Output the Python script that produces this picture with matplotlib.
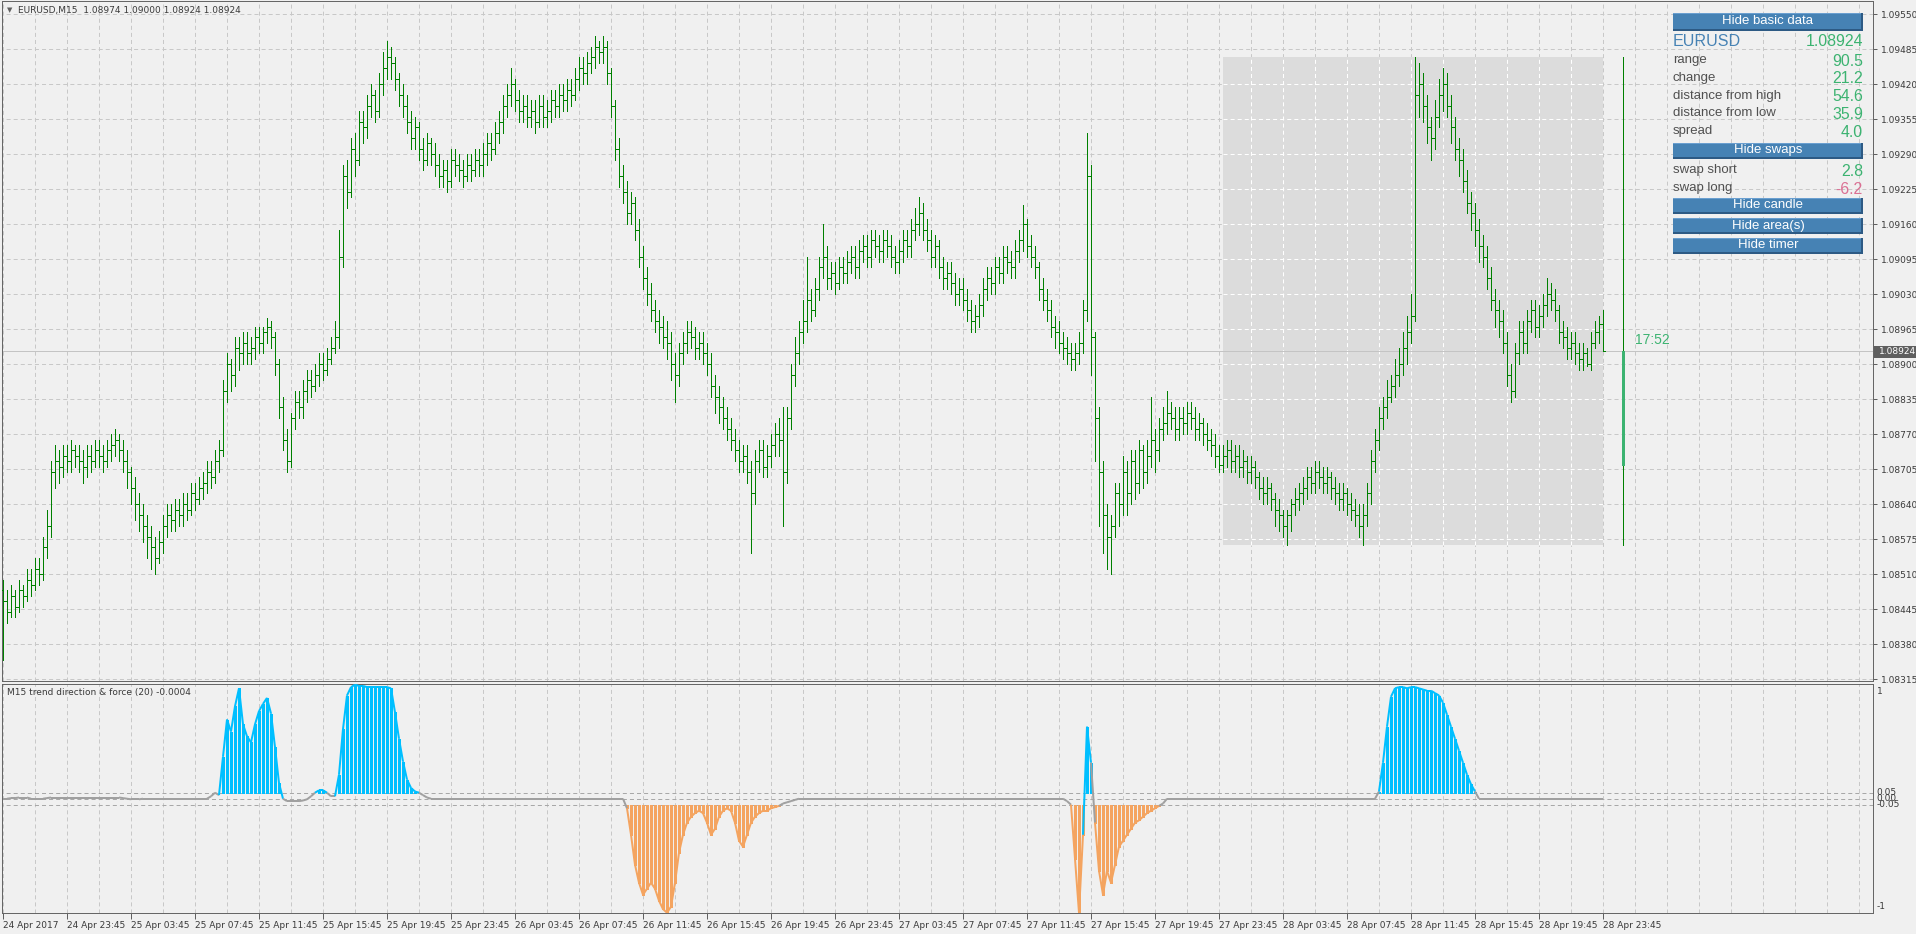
import numpy as np
import matplotlib
matplotlib.use("Agg")
import matplotlib.pyplot as plt
from matplotlib.patches import Rectangle
from matplotlib.collections import LineCollection

plt.rcParams.update({"font.family": "DejaVu Sans", "lines.scale_dashes": False})

BG = "#F0F0F0"
GRID = "#C8C8C8"
BAR_GREEN = "#008000"
SEA_GREEN = "#3CB371"
BLUE = "#00BFFF"
ORANGE = "#F4A460"
NEUTRAL = "#A0A0A0"
TXT = "#3A3A3A"
PX = 0.72  # one pixel in points at dpi 100

# EURUSD M15, prices in pips above 1.08000, bar 0 = 24 Apr 19:45
BASE = 1.08
open_pips = [
    48, 46, 44, 47, 45, 48, 47, 50, 49, 52,
    51, 56, 60, 70, 72, 71, 73, 72, 74, 73,
    72, 71, 73, 72, 74, 73, 72, 74, 75, 76,
    74, 72, 70, 67, 64, 62, 60, 58, 56, 54,
    57, 60, 62, 61, 63, 62, 64, 63, 66, 65,
    67, 68, 70, 69, 72, 74, 85, 90, 88, 93,
    92, 94, 92, 93, 95, 94, 96, 97, 95, 90,
    82, 76, 72, 80, 83, 82, 85, 87, 86, 88,
    90, 89, 91, 93, 95, 110, 125, 122, 130, 128,
    135, 134, 138, 140, 137, 142, 145, 147, 146, 143,
    140, 138, 135, 132, 134, 130, 128, 131, 129, 127,
    125, 126, 124, 128, 127, 126, 125, 127, 126, 128,
    127, 129, 131, 130, 133, 135, 138, 140, 142, 139,
    137, 138, 136, 137, 135, 138, 136, 137, 139, 138,
    140, 139, 141, 140, 143, 145, 144, 146, 147, 149,
    148, 149, 144, 138, 130, 125, 122, 118, 120, 115,
    110, 106, 103, 100, 98, 97, 95, 94, 90, 88,
    92, 94, 96, 95, 93, 94, 92, 90, 86, 84,
    82, 80, 78, 76, 74, 72, 73, 70, 66, 72,
    74, 71, 73, 75, 77, 76, 70, 80, 88, 92,
    96, 98, 102, 100, 104, 108, 110, 106, 107, 105,
    108, 107, 109, 110, 108, 111, 112, 110, 113, 112,
    111, 113, 112, 110, 109, 111, 113, 112, 115, 116,
    118, 115, 113, 110, 112, 108, 106, 107, 105, 103,
    104, 102, 100, 98, 99, 101, 104, 106, 105, 108,
    107, 110, 109, 108, 111, 113, 116, 112, 110, 108,
    104, 102, 100, 97, 96, 94, 93, 92, 91, 92,
    94, 100, 125, 95, 80, 70, 62, 58, 60, 66,
    64, 70, 66, 72, 68, 74, 70, 73, 76, 74,
    78, 79, 81, 80, 78, 80, 79, 81, 80, 78,
    79, 77, 76, 75, 73, 71.2, 73, 74, 72, 73,
    71, 72, 70, 71, 69, 67, 66, 67, 65, 63,
    62, 60, 62, 64, 65, 66, 67, 69, 68, 70,
    69, 68, 69, 67, 66, 65, 66, 64, 63, 62,
    60, 62, 66, 72, 76, 80, 82, 84, 86, 88,
    90, 93, 96, 99, 140, 142, 138, 134, 132, 136,
    140, 142, 138, 134, 130, 128, 124, 120, 118, 115,
    112, 110, 106, 102, 100, 98, 94, 88, 85, 92,
    96, 94, 98, 100, 97, 99, 101, 103, 102, 100,
    96, 95, 93, 94, 92, 91, 92, 90, 94, 96,
    97.4,
]
high_pips = [
    50, 48, 49, 48, 50, 49, 52, 52, 54, 54,
    58, 63, 72, 75, 74, 75, 75, 76, 75, 75,
    74, 75, 75, 76, 76, 75, 76, 77, 78, 77,
    76, 74, 71, 69, 66, 64, 62, 60, 58, 59,
    62, 64, 64, 65, 65, 66, 66, 68, 68, 69,
    70, 72, 72, 74, 76, 87, 92, 91, 95, 95,
    96, 96, 95, 97, 97, 97, 98.5, 98, 96, 91,
    84, 78, 81, 85, 85, 87, 89, 89, 90, 92,
    92, 93, 95, 98, 115, 127, 128, 132, 133, 137,
    137, 140, 142, 141, 144, 148, 150, 149, 147, 144,
    142, 140, 137, 136, 135, 132, 133, 132, 131, 129,
    128, 128, 130, 130, 129, 128, 129, 129, 130, 130,
    131, 133, 133, 135, 137, 140, 142, 145, 143, 141,
    140, 140, 139, 139, 140, 140, 139, 141, 141, 142,
    142, 143, 143, 145, 147, 147, 148, 149, 151, 150,
    151, 150, 145, 139, 132, 127, 124, 122, 121, 117,
    112, 108, 105, 102, 100, 99, 98, 96, 92, 94,
    96, 98, 98, 97, 96, 96, 94, 92, 88, 86,
    84, 82, 80, 78, 76, 75, 75, 72, 74, 76,
    76, 75, 77, 79, 80, 82, 82, 90, 95, 98,
    102, 110, 104, 106, 110, 116, 112, 109, 109, 110,
    110, 111, 112, 112, 113, 114, 114, 115, 115, 114,
    115, 115, 114, 112, 113, 115, 115, 117, 119, 121,
    120, 117, 115, 114, 113, 110, 109, 109, 107, 106,
    106, 104, 102, 101, 103, 106, 108, 108, 110, 110,
    112, 112, 111, 113, 115, 119.5, 117, 114, 112, 109,
    106, 104, 102, 99, 98, 96, 95, 94, 94, 96,
    102, 133, 127, 96, 82, 72, 64, 62, 68, 68,
    73, 72, 74, 74, 76, 75, 76, 84, 78, 80,
    82, 85, 83, 82, 82, 82, 83, 83, 82, 81,
    80, 79, 78, 77, 75, 75, 76, 76, 75, 75,
    74, 73, 73, 72, 70, 69, 69, 68, 66, 65,
    63, 63, 65, 67, 68, 69, 71, 71, 72, 72,
    71, 71, 70, 69, 68, 68, 67, 66, 65, 64,
    64, 68, 74, 78, 82, 84, 87, 88, 91, 93,
    96, 99, 103, 147, 146, 144, 140, 136, 139, 143,
    145, 144, 140, 136, 132, 130, 126, 122, 120, 117,
    114, 112, 108, 104, 102, 100, 96, 90, 94, 98,
    98, 100, 102, 102, 101, 103, 106, 105, 104, 101,
    98, 97, 96, 96, 94, 94, 93, 96, 98, 99,
    100.0,
]
low_pips = [
    35, 42, 43, 43, 44, 45, 46, 47, 48, 49,
    50, 54, 58, 67, 68, 69, 70, 70, 71, 70,
    68, 69, 70, 71, 71, 70, 71, 72, 73, 72,
    70, 67, 64, 61, 59, 57, 54, 52, 51, 53,
    55, 58, 59, 59, 60, 60, 61, 62, 63, 64,
    65, 66, 67, 68, 70, 73, 83, 85, 86, 89,
    90, 90, 90, 91, 92, 92, 94, 93, 88, 80,
    74, 70, 71, 78, 80, 80, 83, 84, 85, 86,
    87, 88, 90, 92, 93, 108, 119, 121, 125, 127,
    131, 132, 136, 135, 136, 140, 143, 143, 141, 138,
    136, 133, 130, 130, 128, 126, 127, 127, 125, 123,
    123, 122, 123, 125, 124, 123, 124, 124, 125, 125,
    125, 127, 128, 129, 131, 133, 136, 138, 137, 135,
    135, 134, 134, 133, 134, 134, 134, 135, 136, 136,
    137, 137, 138, 139, 141, 142, 142, 144, 145, 146,
    146, 142, 136, 128, 123, 120, 116, 116, 113, 108,
    104, 101, 98, 96, 94, 93, 91, 87, 83, 86,
    90, 92, 93, 91, 91, 90, 88, 84, 81, 79,
    78, 76, 74, 72, 70, 70, 68, 55, 64, 70,
    69, 69, 71, 73, 73, 60, 68, 78, 86, 90,
    94, 96, 98, 99, 102, 106, 104, 104, 103, 104,
    105, 105, 107, 106, 106, 109, 108, 108, 110, 109,
    109, 110, 108, 107, 107, 109, 110, 110, 113, 114,
    113, 111, 108, 108, 106, 104, 104, 103, 101, 101,
    100, 98, 96, 96, 97, 99, 102, 103, 103, 105,
    105, 107, 106, 106, 109, 111, 110, 108, 106, 102,
    100, 98, 95, 93, 92, 91, 90, 89, 89, 90,
    92, 98, 88, 72, 60, 55, 52, 51, 58, 60,
    62, 62, 64, 65, 66, 67, 68, 71, 70, 72,
    76, 77, 78, 76, 76, 77, 77, 78, 76, 76,
    75, 74, 73, 71, 70, 70, 71, 70, 70, 69,
    69, 68, 68, 67, 65, 64, 64, 63, 60, 59,
    58, 56.5, 59, 62, 63, 64, 65, 66, 66, 67,
    66, 66, 65, 64, 63, 63, 62, 61, 60, 58,
    56.5, 60, 64, 70, 74, 78, 80, 83, 84, 86,
    88, 90, 94, 98, 136, 135, 131, 128, 130, 134,
    137, 136, 131, 128, 125, 122, 118, 115, 112, 109,
    108, 104, 100, 97, 95, 92, 86, 83, 84, 90,
    92, 92, 96, 95, 95, 97, 99, 100, 98, 94,
    93, 91, 91, 90, 89, 89, 89.6, 89, 93, 94,
    92.4,
]
close_pips = [
    46, 44, 47, 45, 48, 47, 50, 49, 52, 51,
    56, 60, 70, 72, 71, 73, 72, 74, 73, 72,
    71, 73, 72, 74, 73, 72, 74, 75, 76, 74,
    72, 70, 67, 64, 62, 60, 58, 56, 54, 57,
    60, 62, 61, 63, 62, 64, 63, 66, 65, 67,
    68, 70, 69, 72, 74, 85, 90, 88, 93, 92,
    94, 92, 93, 95, 94, 96, 97, 95, 90, 82,
    76, 72, 80, 83, 82, 85, 87, 86, 88, 90,
    89, 91, 93, 95, 110, 125, 122, 130, 128, 135,
    134, 138, 140, 137, 142, 145, 147, 146, 143, 140,
    138, 135, 132, 134, 130, 128, 131, 129, 127, 125,
    126, 124, 128, 127, 126, 125, 127, 126, 128, 127,
    129, 131, 130, 133, 135, 138, 140, 142, 139, 137,
    138, 136, 137, 135, 138, 136, 137, 139, 138, 140,
    139, 141, 140, 143, 145, 144, 146, 147, 149, 148,
    149, 144, 138, 130, 125, 122, 118, 120, 115, 110,
    106, 103, 100, 98, 97, 95, 94, 90, 88, 92,
    94, 96, 95, 93, 94, 92, 90, 86, 84, 82,
    80, 78, 76, 74, 72, 73, 70, 66, 72, 74,
    71, 73, 75, 77, 76, 70, 80, 88, 92, 96,
    98, 102, 100, 104, 108, 110, 106, 107, 105, 108,
    107, 109, 110, 108, 111, 112, 110, 113, 112, 111,
    113, 112, 110, 109, 111, 113, 112, 115, 116, 118,
    115, 113, 110, 112, 108, 106, 107, 105, 103, 104,
    102, 100, 98, 99, 101, 104, 106, 105, 108, 107,
    110, 109, 108, 111, 113, 116, 112, 110, 108, 104,
    102, 100, 97, 96, 94, 93, 92, 91, 92, 94,
    100, 125, 95, 80, 70, 62, 58, 60, 66, 64,
    70, 66, 72, 68, 74, 70, 73, 76, 74, 78,
    79, 81, 80, 78, 80, 79, 81, 80, 78, 79,
    77, 76, 75, 73, 71.2, 73, 74, 72, 73, 71,
    72, 70, 71, 69, 67, 66, 67, 65, 63, 62,
    60, 62, 64, 65, 66, 67, 69, 68, 70, 69,
    68, 69, 67, 66, 65, 66, 64, 63, 62, 60,
    62, 66, 72, 76, 80, 82, 84, 86, 88, 90,
    93, 96, 99, 140, 142, 138, 134, 132, 136, 140,
    142, 138, 134, 130, 128, 124, 120, 118, 115, 112,
    110, 106, 102, 100, 98, 94, 88, 85, 92, 96,
    94, 98, 100, 97, 99, 101, 103, 102, 100, 96,
    95, 93, 94, 92, 91, 92, 90, 94, 96, 97.4,
    92.4,
]

# "trend direction & force (20)" value per bar
trend = [
    0.0, 0.0, 0.005, 0.005, 0.01, 0.01, 0.01, 0.0, 0.0, 0.0,
    0.0, 0.005, 0.01, 0.01, 0.01, 0.01, 0.01, 0.01, 0.01, 0.01,
    0.01, 0.01, 0.01, 0.01, 0.01, 0.01, 0.01, 0.01, 0.01, 0.01,
    0.005, 0.0, -0.005, -0.005, -0.005, 0.0, 0.0, 0.0, 0.0, 0.0,
    0.0, 0.0, 0.0, 0.0, 0.0, 0.0, 0.0, 0.0, 0.0, 0.0,
    0.0, 0.0, 0.02, 0.05, 0.03, 0.35, 0.66, 0.56, 0.77, 0.92,
    0.62, 0.52, 0.47, 0.62, 0.73, 0.79, 0.84, 0.71, 0.43, 0.13,
    0.0, -0.02, -0.02, -0.02, -0.02, -0.015, -0.005, 0.02, 0.05, 0.07,
    0.07, 0.05, 0.02, 0.02, 0.2, 0.58, 0.86, 0.93, 0.95, 0.94,
    0.94, 0.93, 0.93, 0.93, 0.93, 0.93, 0.93, 0.92, 0.72, 0.5,
    0.31, 0.16, 0.09, 0.06, 0.05, 0.03, 0.01, 0.0, 0.0, 0.0,
    0.0, 0.0, 0.0, 0.0, 0.0, 0.0, 0.0, 0.0, 0.0, 0.0,
    0.0, 0.0, 0.0, 0.0, 0.0, 0.0, 0.0, 0.0, 0.0, 0.0,
    0.0, 0.0, 0.0, 0.0, 0.0, 0.0, 0.0, 0.0, 0.0, 0.0,
    0.0, 0.0, 0.0, 0.0, 0.0, 0.0, 0.0, 0.0, 0.0, 0.0,
    0.0, 0.0, 0.0, 0.0, 0.0, 0.0, -0.08, -0.3, -0.55, -0.7,
    -0.8, -0.75, -0.7, -0.75, -0.85, -0.92, -0.95, -0.9, -0.7, -0.45,
    -0.3, -0.2, -0.15, -0.12, -0.1, -0.12, -0.2, -0.3, -0.25, -0.15,
    -0.1, -0.08, -0.1, -0.2, -0.35, -0.4, -0.3, -0.2, -0.15, -0.12,
    -0.1, -0.1, -0.08, -0.07, -0.06, -0.04, -0.03, -0.02, -0.01, 0.0,
    0.0, 0.0, 0.0, 0.0, 0.0, 0.0, 0.0, 0.0, 0.0, 0.0,
    0.0, 0.0, 0.0, 0.0, 0.0, 0.0, 0.0, 0.0, 0.0, 0.0,
    0.0, 0.0, 0.0, 0.0, 0.0, 0.0, 0.0, 0.0, 0.0, 0.0,
    0.0, 0.0, 0.0, 0.0, 0.0, 0.0, 0.0, 0.0, 0.0, 0.0,
    0.0, 0.0, 0.0, 0.0, 0.0, 0.0, 0.0, 0.0, 0.0, 0.0,
    0.0, 0.0, 0.0, 0.0, 0.0, 0.0, 0.0, 0.0, 0.0, 0.0,
    0.0, 0.0, 0.0, 0.0, 0.0, 0.0, -0.02, -0.05, -0.5, -0.95,
    -0.3, 0.6, 0.3, -0.2, -0.6, -0.8, -0.6, -0.7, -0.55, -0.4,
    -0.35, -0.3, -0.25, -0.2, -0.18, -0.15, -0.12, -0.1, -0.08, -0.06,
    -0.04, 0.0, 0.0, 0.0, 0.0, 0.0, 0.0, 0.0, 0.0, 0.0,
    0.0, 0.0, 0.0, 0.0, 0.0, 0.0, 0.0, 0.0, 0.0, 0.0,
    0.0, 0.0, 0.0, 0.0, 0.0, 0.0, 0.0, 0.0, 0.0, 0.0,
    0.0, 0.0, 0.0, 0.0, 0.0, 0.0, 0.0, 0.0, 0.0, 0.0,
    0.0, 0.0, 0.0, 0.0, 0.0, 0.0, 0.0, 0.0, 0.0, 0.0,
    0.0, 0.0, 0.0, 0.0, 0.06, 0.3, 0.6, 0.85, 0.92, 0.93,
    0.93, 0.92, 0.93, 0.93, 0.92, 0.91, 0.9, 0.9, 0.88, 0.86,
    0.8, 0.7, 0.6, 0.5, 0.4, 0.3, 0.2, 0.12, 0.06, 0.0,
    0.0, 0.0, 0.0, 0.0, 0.0, 0.0, 0.0, 0.0, 0.0, 0.0,
    0.0, 0.0, 0.0, 0.0, 0.0, 0.0, 0.0, 0.0, 0.0, 0.0,
    0.0, 0.0, 0.0, 0.0, 0.0, 0.0, 0.0, 0.0, 0.0, 0.0,
    0.0,
]

time_labels = [
    "24 Apr 2017", "24 Apr 23:45", "25 Apr 03:45", "25 Apr 07:45", "25 Apr 11:45",
    "25 Apr 15:45", "25 Apr 19:45", "25 Apr 23:45", "26 Apr 03:45", "26 Apr 07:45",
    "26 Apr 11:45", "26 Apr 15:45", "26 Apr 19:45", "26 Apr 23:45", "27 Apr 03:45",
    "27 Apr 07:45", "27 Apr 11:45", "27 Apr 15:45", "27 Apr 19:45", "27 Apr 23:45",
    "28 Apr 03:45", "28 Apr 07:45", "28 Apr 11:45", "28 Apr 15:45", "28 Apr 19:45",
    "28 Apr 23:45",
]
price_levels = [
    1.08315, 1.08380, 1.08445, 1.08510, 1.08575, 1.08640, 1.08705, 1.08770,
    1.08835, 1.08900, 1.08965, 1.09030, 1.09095, 1.09160, 1.09225, 1.09290,
    1.09355, 1.09420, 1.09485, 1.09550,
]
trend_levels = [0.05, 0.0, -0.05]

# current day (28 Apr) figures
DAY_START_BAR, DAY_END_BAR = 305, 400
day_high, day_low, day_open, last_price = 1.09470, 1.08565, 1.08712, 1.08924
info_rows = [("range", "90.5"), ("change", "21.2"), ("distance from high", "54.6"),
             ("distance from low", "35.9"), ("spread", "4.0")]
swap_rows = [("swap short", "2.8", SEA_GREEN), ("swap long", "-6.2", "#DB7093")]

W, H = 1916, 934
fig = plt.figure(figsize=(W / 100, H / 100), dpi=100, facecolor=BG)


def px_axes(x0, y0, x1, y1):
    return fig.add_axes([x0 / W, 1 - y1 / H, (x1 - x0) / W, (y1 - y0) / H])


ax = px_axes(2, 1, 1873, 681)
ind = px_axes(2, 684, 1873, 913)
dash = (0, (2.9, 2.2))
for a in (ax, ind):
    a.set_facecolor(BG)
    for s in a.spines.values():
        s.set_color("#666666")
        s.set_linewidth(PX)
    a.set_xlim(-0.25, 467.5)
    a.vlines(np.arange(0, 468, 8), 0, 1, transform=a.get_xaxis_transform(),
             colors=GRID, lw=PX, linestyles=dash, zorder=0.1)

# ---- price panel
o = BASE + np.array(open_pips) / 1e4
hi = BASE + np.array(high_pips) / 1e4
lo = BASE + np.array(low_pips) / 1e4
c = BASE + np.array(close_pips) / 1e4
idx = np.arange(len(c))

ax.set_ylim(1.083118, 1.095745)
ax.hlines(price_levels, -1, 470, colors=GRID, lw=PX, linestyles=dash, zorder=0.1)
ax.add_patch(Rectangle((DAY_START_BAR, day_low), DAY_END_BAR - DAY_START_BAR, day_high - day_low,
                       fc="#DCDCDC", ec="none", zorder=0.2))
gx = np.arange(0, 468, 8)
gx = gx[(gx > DAY_START_BAR) & (gx < DAY_END_BAR)]
ax.vlines(gx, day_low, day_high, colors="white", lw=PX, linestyles=dash, zorder=0.3)
gy = [p for p in price_levels if day_low < p < day_high]
ax.hlines(gy, DAY_START_BAR, DAY_END_BAR, colors="white", lw=PX, linestyles=dash, zorder=0.3)
ax.axhline(last_price, color="#C4C4C4", lw=PX, zorder=0.4)

ax.vlines(idx, lo, hi, colors=BAR_GREEN, lw=PX, antialiased=False, zorder=3)
ax.hlines(o, idx - 0.5, idx, colors=BAR_GREEN, lw=PX, antialiased=False, zorder=3)
ax.hlines(c, idx, idx + 0.5, colors=BAR_GREEN, lw=PX, antialiased=False, zorder=3)

# day candle to the right of the last bar
ax.vlines(405, day_low, day_high, colors=BAR_GREEN, lw=PX, antialiased=False, zorder=3)
ax.vlines(405, day_open, last_price, colors=SEA_GREEN, lw=3 * PX, antialiased=False, zorder=4)

ax.set_xticks([])
ax.yaxis.tick_right()
ax.set_yticks(price_levels)
ax.set_yticklabels([f"{p:.5f}" for p in price_levels])
ax.tick_params(axis="y", direction="out", length=3, width=PX, color="#606060",
               pad=3, labelsize=6.5, labelcolor=TXT)

# ---- indicator panel
v = np.array(trend)
ind.set_ylim(-0.9525, 0.956)
ind.hlines(trend_levels, -1, 470, colors="#A8A8A8", lw=PX, linestyles=dash, zorder=0.2)
up = v > 0.05
dn = v < -0.05
ind.vlines(idx[up], 0.05, v[up], colors=BLUE, lw=2.8 * PX, antialiased=False, zorder=2)
ind.vlines(idx[dn], -0.05, v[dn], colors=ORANGE, lw=2.8 * PX, antialiased=False, zorder=2)
segs = [[(i, v[i]), (i + 1, v[i + 1])] for i in range(len(v) - 1)]
seg_cols = []
for i in range(len(v) - 1):
    m = (v[i] + v[i + 1]) / 2
    seg_cols.append(BLUE if m > 0.05 else ORANGE if m < -0.05 else NEUTRAL)
ind.add_collection(LineCollection(segs, colors=seg_cols, linewidths=2 * PX, zorder=3))

ind.set_yticks([])
for lab, yv in [("1", 0.89), ("0.05", 0.05), ("0.00", 0.0), ("-0.05", -0.05), ("-1", -0.9)]:
    ind.annotate(lab, xy=(1, yv), xycoords=ind.get_yaxis_transform(), xytext=(2.5, 0),
                 textcoords="offset points", ha="left", va="center", fontsize=6.5, color=TXT,
                 annotation_clip=False)
ind.set_xticks(np.arange(0, 401, 16))
ind.set_xticklabels(time_labels, ha="left")
ind.tick_params(axis="x", direction="out", length=4, width=PX, color="#606060",
                pad=2, labelsize=6.5, labelcolor=TXT)

# ---- overlay: titles, info panel, timer
ov = fig.add_axes([0, 0, 1, 1], zorder=10)
ov.set_xlim(0, W)
ov.set_ylim(H, 0)
ov.axis("off")
ov.patch.set_alpha(0)

ov.text(7, 10.5, "\u25bc", fontsize=5, color="#606060", va="center", ha="left")
ov.text(18, 10.5, "EURUSD,M15  1.08974 1.09000 1.08924 1.08924", fontsize=6.5,
        color=TXT, va="center", ha="left")
ov.text(7, 693, "M15 trend direction & force (20) -0.0004", fontsize=6.5,
        color=TXT, va="center", ha="left")

# current price tag on the scale
ov.add_patch(Rectangle((1874, 346), 42, 12, fc="#5F5F5F", ec="none"))
ov.text(1879, 352, f"{last_price:.5f}", fontsize=6.5, color="white", va="center", ha="left")

ov.text(1635, 340, "17:52", fontsize=10, color=SEA_GREEN, va="center", ha="left",
        family="Liberation Sans")

PX0, PX1 = 1673, 1863


def button(y0, y1, label):
    ov.add_patch(Rectangle((PX0, y0), PX1 - PX0, y1 - y0, fc="#2D5A84", ec="none"))
    ov.add_patch(Rectangle((PX0, y0), PX1 - PX0 - 2, y1 - y0 - 2, fc="#4682B4", ec="none"))
    ov.add_patch(Rectangle((PX0, y0), PX1 - PX0 - 2, 1, fc="#6A9FD0", ec="none"))
    ov.text((PX0 + PX1) / 2, (y0 + y1) / 2 - 0.5, label, color="white", ha="center",
            va="center", fontsize=9.5, family="Liberation Sans")


button(13, 31, "Hide basic data")
ov.text(PX0, 42, "EURUSD", fontsize=11.6, color="#4682B4", va="center", ha="left",
        family="Liberation Sans")
ov.text(PX1, 42, f"{last_price:.5f}", fontsize=11.4, color=SEA_GREEN, va="center",
        ha="right", family="Liberation Sans")
for k, (lab, val) in enumerate(info_rows):
    yy = 60 + k * 17.8
    ov.text(PX0, yy, lab, fontsize=9.5, color="#505050", va="center", ha="left",
            family="Liberation Sans")
    ov.text(PX1, yy + 1, val, fontsize=11.4, color=SEA_GREEN, va="center", ha="right",
            family="Liberation Sans")
button(143, 159, "Hide swaps")
for k, (lab, val, col) in enumerate(swap_rows):
    yy = 170 + k * 18
    ov.text(PX0, yy, lab, fontsize=9.5, color="#505050", va="center", ha="left",
            family="Liberation Sans")
    ov.text(PX1, yy + 1, val, fontsize=11.4, color=col, va="center", ha="right",
            family="Liberation Sans")
button(198, 214, "Hide candle")
button(218, 234, "Hide area(s)")
button(238, 254, "Hide timer")

fig.savefig("out.png", dpi=100, facecolor=BG)
